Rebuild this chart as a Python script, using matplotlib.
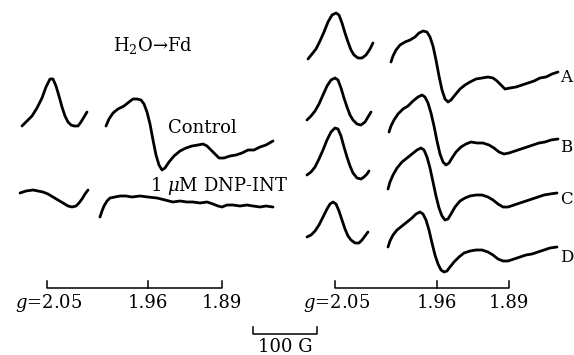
import matplotlib.pyplot as plt

plt.rcParams['font.family'] = ['DejaVu Serif', 'DejaVu Sans']
plt.rcParams['mathtext.fontset'] = 'dejavuserif'

# Spectra (field position, signal), in picture units
ctl_lo_x = [22, 27, 32, 37, 42, 46, 50, 53, 56, 59, 62, 65, 68, 71, 74, 78, 81, 84, 87]
ctl_lo_y = [126, 121, 116, 108, 98, 87, 79, 79, 86, 96, 107, 116, 122, 125, 126, 126, 122, 117, 112]
ctl_hi_x = [106, 109, 113, 118, 124, 129, 133, 137, 141, 144, 147, 150, 153, 156, 159, 162, 165, 169,
            174, 180, 186, 192, 198, 203, 207, 211, 215, 219, 224, 230, 236, 242, 248, 254, 260, 266, 273]
ctl_hi_y = [126, 119, 113, 109, 106, 102, 99, 99, 100, 104, 112, 124, 140, 155, 165, 170, 168, 162,
            156, 151, 148, 146, 145, 144, 146, 150, 154, 158, 158, 156, 155, 153, 150, 150, 147, 145, 141]

dnp_lo_x = [20, 26, 33, 38, 43, 48, 53, 58, 63, 68, 72, 76, 79, 82, 85, 88]
dnp_lo_y = [193, 191, 190, 191, 192, 194, 197, 200, 203, 206, 207, 206, 203, 199, 194, 190]
dnp_hi_x = [100, 102, 104, 107, 110, 115, 120, 126, 132, 140, 148, 157, 165, 173, 180, 187, 193, 200,
            207, 213, 218, 222, 227, 233, 240, 247, 253, 260, 266, 273]
dnp_hi_y = [217, 211, 206, 201, 198, 197, 196, 196, 197, 196, 197, 198, 200, 202, 201, 202, 202, 203,
            202, 204, 206, 207, 205, 205, 206, 205, 206, 207, 206, 207]

a_lo_x = [308, 312, 316, 320, 324, 328, 332, 336, 339, 342, 345, 348, 351, 354, 358, 362, 366, 370, 373]
a_lo_y = [59, 54, 49, 41, 32, 22, 15, 13, 15, 23, 33, 42, 50, 55, 58, 58, 55, 49, 43]
a_hi_x = [391, 393, 396, 400, 405, 410, 415, 419, 423, 427, 430, 433, 436, 439, 442, 445, 448, 451, 455,
          460, 465, 470, 476, 482, 488, 493, 497, 501, 505, 510, 516, 522, 528, 534, 540, 546, 552, 558]
a_hi_y = [62, 56, 50, 45, 42, 40, 37, 33, 31, 32, 37, 46, 60, 76, 90, 99, 102, 100, 95,
          89, 85, 82, 79, 78, 77, 78, 81, 85, 89, 88, 87, 85, 83, 81, 78, 77, 74, 72]

b_lo_x = [307, 311, 315, 319, 323, 327, 331, 335, 338, 341, 344, 347, 350, 353, 357, 361, 365, 368, 371]
b_lo_y = [120, 116, 111, 104, 95, 86, 80, 78, 80, 88, 98, 107, 115, 120, 124, 125, 122, 117, 112]
b_hi_x = [389, 391, 394, 398, 403, 408, 413, 418, 422, 425, 428, 431, 434, 437, 440, 443, 446, 449, 452,
          456, 461, 466, 471, 477, 483, 489, 494, 499, 504, 509, 515, 521, 527, 533, 539, 545, 551, 558]
b_hi_y = [132, 126, 120, 114, 109, 106, 101, 97, 95, 97, 103, 113, 126, 141, 154, 162, 165, 163, 158,
          152, 147, 144, 142, 143, 143, 145, 148, 152, 154, 153, 151, 149, 147, 145, 143, 142, 140, 139]

c_lo_x = [307, 311, 315, 319, 323, 327, 331, 335, 338, 341, 344, 347, 350, 353, 357, 361, 364, 367, 369]
c_lo_y = [175, 172, 167, 159, 150, 140, 132, 128, 129, 136, 147, 157, 166, 173, 178, 179, 177, 174, 171]
c_hi_x = [388, 390, 393, 397, 402, 407, 412, 417, 421, 424, 427, 430, 433, 436, 439, 442, 445, 448, 451,
          455, 460, 465, 470, 476, 482, 488, 493, 498, 503, 508, 514, 520, 526, 532, 538, 544, 550, 557]
c_hi_y = [189, 182, 175, 168, 162, 158, 154, 150, 148, 150, 157, 168, 182, 196, 208, 216, 220, 219, 214,
          207, 201, 198, 196, 195, 195, 197, 200, 204, 207, 207, 205, 203, 201, 199, 197, 195, 194, 193]

d_lo_x = [307, 311, 315, 319, 323, 327, 330, 333, 336, 339, 342, 345, 348, 351, 355, 359, 362, 365, 368]
d_lo_y = [237, 235, 231, 225, 217, 209, 204, 202, 204, 211, 220, 229, 236, 240, 243, 243, 240, 236, 232]
d_hi_x = [388, 390, 393, 397, 402, 407, 412, 416, 420, 423, 426, 429, 432, 435, 438, 441, 444, 447, 450,
          454, 459, 464, 470, 476, 482, 488, 493, 498, 503, 508, 514, 520, 526, 532, 538, 544, 550, 557]
d_hi_y = [247, 241, 235, 230, 226, 222, 218, 214, 212, 214, 220, 230, 243, 255, 264, 270, 272, 271, 267,
          262, 257, 253, 251, 250, 250, 252, 255, 259, 261, 261, 259, 257, 255, 254, 252, 250, 248, 247]

# g-value markers and the field scale
g_labels = ["2.05", "1.96", "1.89"]
left_g_pos = [47, 148, 222]
right_g_pos = [335, 437, 509]
field_bar = [253, 317]

trace_labels = ["A", "B", "C", "D"]
trace_label_y = [78, 148, 200, 258]

fig = plt.figure(figsize=(5.74, 3.55), dpi=100)
ax = fig.add_axes([0, 0, 1, 1])
ax.set_xlim(0, 574)
ax.set_ylim(355, 0)
ax.axis('off')

spectra = [(ctl_lo_x, ctl_lo_y), (ctl_hi_x, ctl_hi_y), (dnp_lo_x, dnp_lo_y), (dnp_hi_x, dnp_hi_y),
           (a_lo_x, a_lo_y), (a_hi_x, a_hi_y), (b_lo_x, b_lo_y), (b_hi_x, b_hi_y),
           (c_lo_x, c_lo_y), (c_hi_x, c_hi_y), (d_lo_x, d_lo_y), (d_hi_x, d_hi_y)]
for xs, ys in spectra:
    ax.plot(xs, ys, color='black', lw=2.0, solid_joinstyle='round', solid_capstyle='round')

# Bracket scales with g values
for pos in (left_g_pos, right_g_pos):
    ax.plot([pos[0], pos[0], pos[-1], pos[-1]], [281, 288, 288, 281], color='black', lw=1.1)
    ax.plot([pos[1], pos[1]], [281, 288], color='black', lw=1.1)
    ax.text(pos[0] + 35, 303, "$g$=" + g_labels[0], ha='right', va='center', fontsize=13)
    for p, lab in zip(pos[1:], g_labels[1:]):
        ax.text(p, 303, lab, ha='center', va='center', fontsize=13)

# 100 G bar
ax.plot([field_bar[0], field_bar[0], field_bar[1], field_bar[1]], [327, 334, 334, 327],
        color='black', lw=1.1)
ax.text(sum(field_bar) / 2, 347, "100 G", ha='center', va='center', fontsize=13)

# Annotations
ax.text(153, 45, "H$_2$O\u2192Fd", ha='center', va='center', fontsize=13)
ax.text(202, 128, "Control", ha='center', va='center', fontsize=13)
ax.text(150, 186, "1 $\\mu$M DNP-INT", ha='left', va='center', fontsize=13)
for lab, y in zip(trace_labels, trace_label_y):
    ax.text(560, y, lab, ha='left', va='center', fontsize=12)

fig.savefig("out.png", dpi=100)
